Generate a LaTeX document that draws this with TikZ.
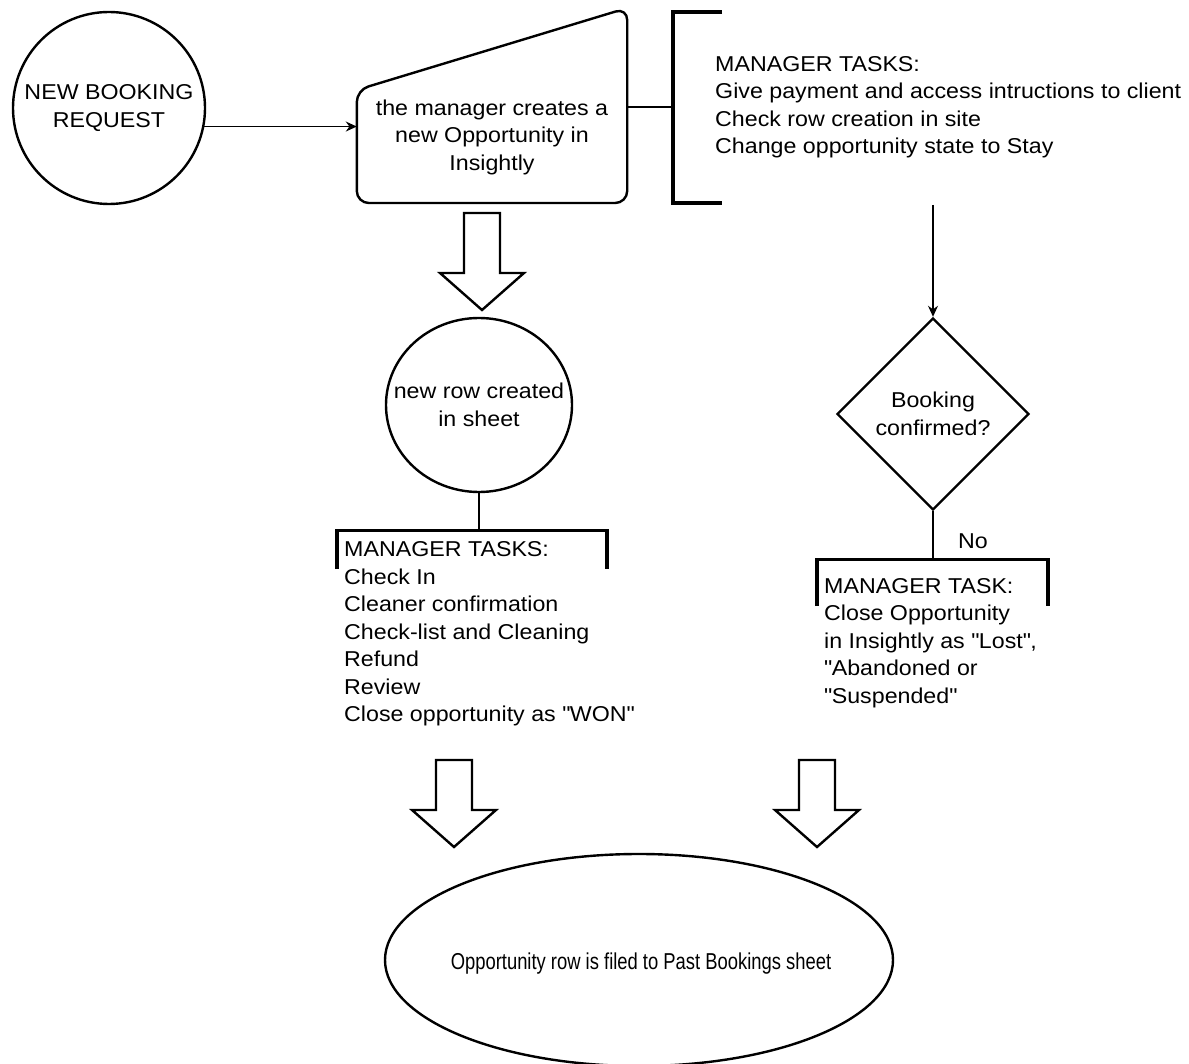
\documentclass[tikz,border=0pt]{standalone}
\usepackage{fontspec}
\setmainfont{Liberation Sans}[FakeStretch=1.08]
\newfontfamily\narrowfont{Liberation Sans}[FakeStretch=0.8]
\usetikzlibrary{shapes.geometric,arrows.meta,calc,positioning}

\tikzset{
  every node/.style={font=\fontsize{21.5}{27.5}\selectfont, inner sep=0pt, align=center},
  outline/.style={draw, line width=2.4pt},
  thinline/.style={line width=1.4pt},
  bracket/.style={line width=3.2pt},
  arrow/.style={thinline, -{Stealth[length=11pt,width=10pt]}},
  tasks/.style={align=left, anchor=west},
}

% hollow block arrow, from #1 down to the tip #2
\newcommand{\bigarrow}[2]{
  \draw[outline] let \p1=(#1), \p2=(#2) in
    (\x1-18pt,\y1) -- (\x1+18pt,\y1) -- (\x1+18pt,\y2+37pt) -- (\x1+42pt,\y2+37pt)
    -- (\x2,\y2) -- (\x1-42pt,\y2+37pt) -- (\x1-18pt,\y2+37pt) -- cycle;
}

% bracket open at the bottom: centre #1, left #2, right #3, leg #4
\newcommand{\taskbracket}[4]{
  \draw[bracket] ($(#1)+(#2,#4)$) -- ($(#1)+(#2,0)$) -- ($(#1)+(#3,0)$) -- ($(#1)+(#3,#4)$);
}

\begin{document}
\begin{tikzpicture}[x=1pt,y=-1pt]
\useasboundingbox (0,0) rectangle (1189,1064);

% request
\node[outline, circle, minimum size=192pt] (newreq) at (109,108) {NEW BOOKING\\REQUEST};

% manual input
\node[minimum width=270pt] (manual) at (492,137) {the manager creates a\\new Opportunity in\\Insightly};
\draw[outline, rounded corners=12pt] ($(manual.west)+(0,-47)$) -- ($(manual.east)+(0,-129)$)
  -- ($(manual.east)+(0,66)$) -- ($(manual.west)+(0,66)$) -- cycle;
\draw[arrow] (newreq.-11) -- (newreq.-11 -| manual.west);

% top tasks
\node[tasks] (toptasks) at (715,107) {MANAGER TASKS:\\Give payment and access intructions to client\\Check row creation in site\\Change opportunity state to Stay};
\coordinate (topbr) at ([xshift=-42pt]toptasks.west);
\coordinate (topbr-end) at ($(topbr)+(0,98)$);
\draw[bracket] ($(topbr)+(49,-95)$) -- ($(topbr)+(0,-95)$) -- ($(topbr)+(0,96)$) -- ($(topbr)+(49,96)$);
\draw[outline] (manual.east |- topbr) -- (topbr);

% decision
\node[outline, diamond, minimum width=192pt, minimum height=192pt] (decision) at (933,414) {Booking\\confirmed?};
\draw[arrow] (topbr-end -| decision.north) -- (decision.north);

% no branch
\coordinate (nobr) at ($(decision.south)+(0,48)$);
\draw[outline] (decision.south) -- node[pos=0.62, anchor=west, xshift=24pt] (nolabel) {No} (nobr);
\taskbracket{nobr}{-116}{115}{47}
\node[tasks] (losttask) at ($(nobr)+(-109,84)$) {MANAGER TASK:\\Close Opportunity\\in Insightly as \textquotedbl Lost\textquotedbl,\\\textquotedbl Abandoned or\\\textquotedbl Suspended\textquotedbl};

% new row
\coordinate (a-top) at (482,213);
\coordinate (a-tip) at (482,310);
\bigarrow{a-top}{a-tip}
\node[outline, ellipse, minimum width=186pt, minimum height=174pt] (newrow) at (479,405) {};
\node (newrowtext) at (newrow.center) {new row created\\in sheet};
\coordinate (rowbr) at ($(newrow.south)+(0,37)$);
\draw[outline] (newrow.south) -- (rowbr);
\taskbracket{rowbr}{-142}{128}{39}
\node[tasks] (rowtasks) at ($(rowbr)+(-135,104)$) {MANAGER TASKS:\\Check In\\Cleaner confirmation\\Check-list and Cleaning\\Refund\\Review\\Close opportunity as \textquotedbl WON\textquotedbl};

% into the past bookings
\coordinate (b-left) at (454,760);
\coordinate (b-left-tip) at (454,847);
\coordinate (b-right) at (817,760);
\coordinate (b-right-tip) at (817,847);
\bigarrow{b-left}{b-left-tip}
\bigarrow{b-right}{b-right-tip}
\node[outline, ellipse, minimum width=508pt, minimum height=212pt] (filed) at (639,960) {};
\node[font=\narrowfont\fontsize{23}{27.5}\selectfont] (filedtext) at (641,964) {Opportunity row is filed to Past Bookings sheet};
\end{tikzpicture}
\end{document}
